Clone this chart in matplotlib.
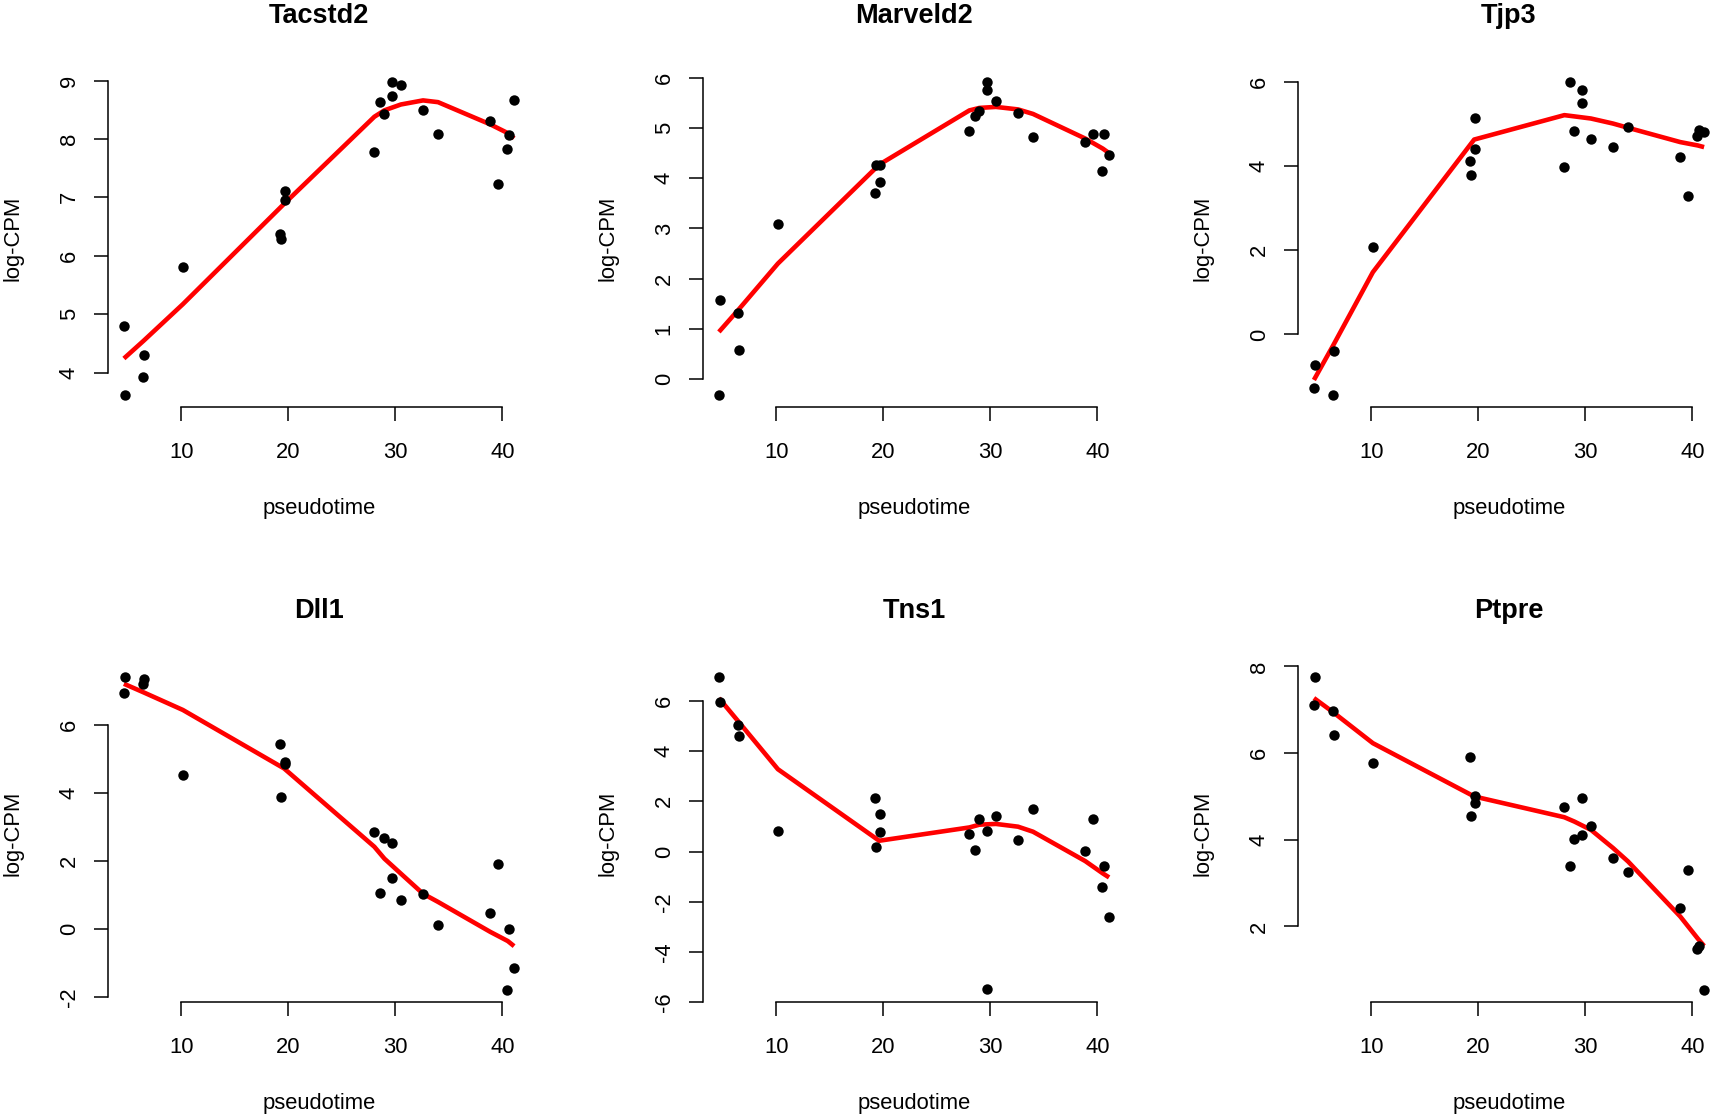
"""
Pseudotime expression panels
Six genes, log-CPM against pseudotime with a fitted trend drawn in red.
"""
import matplotlib
matplotlib.use("Agg")
import matplotlib.pyplot as plt

# ==============================================================================
# Data
# ==============================================================================
PSEUDOTIME = [4.62, 4.72, 6.40, 6.47, 10.13, 19.25, 19.32, 19.66, 19.70,
              28.03, 28.58, 28.97, 29.66, 29.68, 30.51, 32.58, 33.98,
              38.86, 39.60, 40.41, 40.64, 41.09]

GENES = ['Tacstd2', 'Marveld2', 'Tjp3', 'Dll1', 'Tns1', 'Ptpre']

LOGCPM_TACSTD2 = [4.79, 3.62, 3.92, 4.30, 5.80, 6.38, 6.28, 7.11, 6.96,
                  7.77, 8.63, 8.42, 8.97, 8.74, 8.93, 8.50, 8.08,
                  8.31, 7.23, 7.83, 8.06, 8.67]
LOGCPM_MARVELD2 = [-0.31, 1.57, 1.32, 0.59, 3.09, 3.70, 4.26, 4.26, 3.92,
                   4.94, 5.23, 5.33, 5.91, 5.76, 5.53, 5.29, 4.83,
                   4.72, 4.89, 4.14, 4.89, 4.47]
LOGCPM_TJP3 = [-1.28, -0.73, -1.43, -0.39, 2.08, 4.11, 3.79, 5.15, 4.41,
               3.98, 5.99, 4.84, 5.81, 5.51, 4.65, 4.46, 4.93,
               4.22, 3.29, 4.72, 4.85, 4.80]
LOGCPM_DLL1 = [6.95, 7.40, 7.20, 7.35, 4.53, 5.44, 3.88, 4.90, 4.84,
               2.86, 1.06, 2.68, 1.51, 2.52, 0.87, 1.02, 0.11,
               0.46, 1.90, -1.78, -0.01, -1.13]
LOGCPM_TNS1 = [6.94, 5.97, 5.04, 4.62, 0.80, 2.13, 0.17, 1.48, 0.78,
               0.70, 0.06, 1.31, 0.82, -5.49, 1.43, 0.45, 1.68,
               0.03, 1.31, -1.43, -0.58, -2.60]
LOGCPM_PTPRE = [7.11, 7.75, 6.98, 6.41, 5.78, 5.92, 4.56, 5.02, 4.86,
                4.75, 3.40, 4.01, 4.96, 4.11, 4.31, 3.59, 3.25,
                2.43, 3.30, 1.49, 1.55, 0.54]

# fitted trend, read at a handful of pseudotime values
FIT_PSEUDOTIME = [4.62, 6.44, 10.13, 19.6, 28.03, 28.97, 30.51, 32.58,
                  33.98, 38.86, 40.5, 41.09]
FIT_TACSTD2 = [4.24, 4.54, 5.17, 6.89, 8.38, 8.49, 8.59, 8.66, 8.63, 8.25, 8.10, 8.01]
FIT_MARVELD2 = [0.94, 1.38, 2.30, 4.27, 5.35, 5.40, 5.42, 5.37, 5.28, 4.79, 4.59, 4.50]
FIT_TJP3 = [-1.08, -0.25, 1.48, 4.63, 5.21, 5.18, 5.13, 5.01, 4.91, 4.57, 4.49, 4.45]
FIT_DLL1 = [7.21, 6.96, 6.44, 4.72, 2.42, 2.07, 1.63, 1.04, 0.80, -0.08, -0.35, -0.50]
FIT_TNS1 = [6.11, 5.18, 3.28, 0.43, 0.96, 1.07, 1.10, 0.99, 0.79, -0.38, -0.87, -1.03]
FIT_PTPRE = [7.27, 6.94, 6.23, 5.00, 4.52, 4.42, 4.23, 3.81, 3.50, 2.23, 1.72, 1.55]

XTICKS = [10, 20, 30, 40]
YTICKS_TACSTD2 = [4, 5, 6, 7, 8, 9]
YTICKS_MARVELD2 = [0, 1, 2, 3, 4, 5, 6]
YTICKS_TJP3 = [0, 2, 4, 6]
YTICKS_DLL1 = [-2, 0, 2, 4, 6]
YTICKS_TNS1 = [-6, -4, -2, 0, 2, 4, 6]
YTICKS_PTPRE = [2, 4, 6, 8]

# ==============================================================================
# Layout (pixels, R-style panel cells)
# ==============================================================================
FIG_W, FIG_H = 1713, 1117
CELL = 595
PLOT_LEFT0, PLOT_TOP0 = 108.3, 69.8
PLOT_W, PLOT_H = 421.4, 337.4
FONT = 'Liberation Sans'


def r_limits(values):
    """Mimic R's default 4% axis extension."""
    lo, hi = min(values), max(values)
    pad = 0.04 * (hi - lo)
    return lo - pad, hi + pad


def draw_panel(fig, row, col, gene, y, fit, yticks):
    left = (PLOT_LEFT0 + CELL * col) / FIG_W
    bottom = 1 - (PLOT_TOP0 + CELL * row + PLOT_H) / FIG_H
    ax = fig.add_axes([left, bottom, PLOT_W / FIG_W, PLOT_H / FIG_H])

    ax.plot(FIT_PSEUDOTIME, fit, color='#ff0000', lw=3.3, zorder=2,
            solid_capstyle='butt')
    ax.plot(PSEUDOTIME, y, 'o', color='black', ms=7.5, mew=0, zorder=3)

    ax.set_xlim(*r_limits(PSEUDOTIME))
    ax.set_ylim(*r_limits(y))
    ax.set_xticks(XTICKS)
    ax.set_yticks(yticks)
    ax.set_yticklabels([str(t) for t in yticks])

    for side in ['top', 'right']:
        ax.spines[side].set_visible(False)
    ax.spines['left'].set_bounds(yticks[0], yticks[-1])
    ax.spines['bottom'].set_bounds(XTICKS[0], XTICKS[-1])
    for side in ['left', 'bottom']:
        ax.spines[side].set_linewidth(1.1)

    ax.tick_params(direction='out', length=10.1, width=1.1, labelsize=15.8)
    ax.tick_params(axis='x', pad=15)
    ax.tick_params(axis='y', pad=10.4)
    for lab in ax.get_yticklabels():
        lab.set_rotation(90)
        lab.set_va('center')
    for lab in ax.get_xticklabels() + ax.get_yticklabels():
        lab.set_family(FONT)

    ax.set_title(gene, fontsize=19.5, fontweight='bold', family=FONT, pad=33.8)
    ax.set_xlabel('pseudotime', fontsize=15.8, family=FONT)
    ax.set_ylabel('log-CPM', fontsize=15.8, family=FONT)
    ax.xaxis.set_label_coords(0.5, -91.3 / PLOT_H)
    ax.yaxis.set_label_coords(-84.8 / PLOT_W, 0.5)
    ax.patch.set_alpha(0)
    return ax


def main() -> None:
    fig = plt.figure(figsize=(FIG_W / 100, FIG_H / 100), dpi=100)
    panels = [
        (GENES[0], LOGCPM_TACSTD2, FIT_TACSTD2, YTICKS_TACSTD2),
        (GENES[1], LOGCPM_MARVELD2, FIT_MARVELD2, YTICKS_MARVELD2),
        (GENES[2], LOGCPM_TJP3, FIT_TJP3, YTICKS_TJP3),
        (GENES[3], LOGCPM_DLL1, FIT_DLL1, YTICKS_DLL1),
        (GENES[4], LOGCPM_TNS1, FIT_TNS1, YTICKS_TNS1),
        (GENES[5], LOGCPM_PTPRE, FIT_PTPRE, YTICKS_PTPRE),
    ]
    for i, (gene, y, fit, yticks) in enumerate(panels):
        draw_panel(fig, i // 3, i % 3, gene, y, fit, yticks)

    fig.savefig('out.png', dpi=100)
    plt.close(fig)


if __name__ == '__main__':
    main()
